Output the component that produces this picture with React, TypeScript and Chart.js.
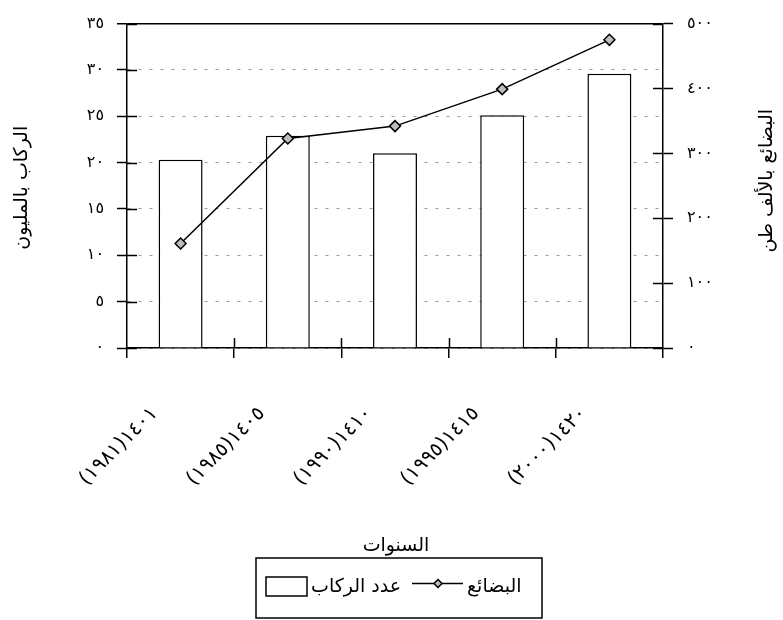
import React, { useEffect, useRef } from 'react';
import { Chart, registerables } from 'chart.js';

Chart.register(...registerables);

const categories = ['(١٩٨١)١٤٠١', '(١٩٨٥)١٤٠٥', '(١٩٩٠)١٤١٠', '(١٩٩٥)١٤١٥', '(٢٠٠٠)١٤٢٠'];
const passengers = [20.3, 22.9, 21.0, 25.1, 29.6];
const goods = [161, 323, 342, 399, 475];

const leftTitle = 'الركاب بالمليون';
const rightTitle = 'البضائع بالألف طن';
const xTitle = 'السنوات';
const barLabel = 'عدد الركاب';
const lineLabel = 'البضائع';

const FONT = "'DejaVu Sans', sans-serif";
const arabicDigits = '٠١٢٣٤٥٦٧٨٩';
const toArabic = (v: number | string) => String(v).replace(/\d/g, (d) => arabicDigits[+d]);

const decorPlugin = {
  id: 'decor',
  afterDraw(chart: any) {
    const { ctx, chartArea: a, scales } = chart;
    ctx.save();
    ctx.strokeStyle = '#000';
    ctx.lineWidth = 1.5;
    // inner halves of the crossing tick marks
    ctx.beginPath();
    scales.y.ticks.forEach((t: any) => {
      const py = Math.round(scales.y.getPixelForValue(t.value)) + 0.5;
      ctx.moveTo(a.left, py);
      ctx.lineTo(a.left + 10, py);
    });
    scales.y1.ticks.forEach((t: any) => {
      const py = Math.round(scales.y1.getPixelForValue(t.value)) + 0.5;
      ctx.moveTo(a.right, py);
      ctx.lineTo(a.right - 10, py);
    });
    for (let i = 1; i < categories.length; i++) {
      const px = Math.round(scales.x.getPixelForValue(i - 0.5)) + 0.5;
      ctx.moveTo(px, a.bottom);
      ctx.lineTo(px, a.bottom - 10);
    }
    ctx.stroke();

    // axis titles
    ctx.fillStyle = '#000';
    ctx.font = `19px ${FONT}`;
    ctx.textAlign = 'center';
    ctx.textBaseline = 'middle';
    ctx.save();
    ctx.translate(22, (a.top + a.bottom) / 2 + 2);
    ctx.rotate(-Math.PI / 2);
    ctx.fillText(leftTitle, 0, 0);
    ctx.restore();
    ctx.save();
    ctx.translate(767, (a.top + a.bottom) / 2 - 5);
    ctx.rotate(-Math.PI / 2);
    ctx.fillText(rightTitle, 0, 0);
    ctx.restore();
    const cx = (a.left + a.right) / 2;
    ctx.fillText(xTitle, cx + 1, 546);

    // legend
    const lx = cx + 4 - 143;
    const ly = 558;
    ctx.lineWidth = 1.5;
    ctx.strokeRect(lx, ly, 286, 60);
    ctx.strokeRect(lx + 10, 577, 41, 19);
    ctx.textAlign = 'left';
    ctx.fillText(barLabel, lx + 55, 587);
    ctx.beginPath();
    ctx.moveTo(lx + 156, 583.5);
    ctx.lineTo(lx + 207, 583.5);
    ctx.stroke();
    const dx = lx + 182;
    const dy = 583.5;
    ctx.beginPath();
    ctx.moveTo(dx, dy - 4);
    ctx.lineTo(dx + 4, dy);
    ctx.lineTo(dx, dy + 4);
    ctx.lineTo(dx - 4, dy);
    ctx.closePath();
    ctx.fillStyle = '#bdbdbd';
    ctx.fill();
    ctx.stroke();
    ctx.fillStyle = '#000';
    ctx.fillText(lineLabel, lx + 211, 587);
    ctx.restore();
  },
};

export default function App() {
  const ref = useRef<HTMLCanvasElement | null>(null);

  useEffect(() => {
    const canvas = ref.current;
    if (!canvas) return;
    const chart = new Chart(canvas, {
      type: 'bar',
      data: {
        labels: categories,
        datasets: [
          {
            type: 'bar',
            label: barLabel,
            data: passengers,
            yAxisID: 'y',
            backgroundColor: '#ffffff',
            borderColor: '#000000',
            borderWidth: 1.5,
            categoryPercentage: 1,
            barPercentage: 0.41,
            order: 2,
          },
          {
            type: 'line',
            label: lineLabel,
            data: goods,
            yAxisID: 'y1',
            borderColor: '#000000',
            borderWidth: 1.5,
            pointStyle: 'rectRot',
            pointRadius: 5.5,
            pointBackgroundColor: '#bdbdbd',
            pointBorderColor: '#000000',
            pointBorderWidth: 1.5,
            order: 1,
          } as any,
        ],
      },
      options: {
        responsive: false,
        animation: false,
        devicePixelRatio: 1,
        events: [],
        layout: { padding: { top: 18, left: 0, right: 0, bottom: 0 } },
        font: { family: FONT },
        plugins: {
          legend: { display: false },
          tooltip: { enabled: false },
        },
        scales: {
          x: {
            offset: true,
            grid: {
              offset: true,
              drawOnChartArea: false,
              drawTicks: true,
              tickLength: 10,
              color: '#000',
              tickColor: '#000',
              tickWidth: 1.5,
              lineWidth: 1.5,
            },
            border: { display: true, color: '#000', width: 1.5 },
            ticks: {
              autoSkip: false,
              minRotation: 45,
              maxRotation: 45,
              padding: 44,
              labelOffset: -26,
              color: '#000',
              font: { family: FONT, size: 20 },
            },
            afterFit: (s: any) => {
              s.height = 272;
            },
          },
          y: {
            position: 'left',
            min: 0,
            max: 35,
            ticks: {
              stepSize: 5,
              padding: 13,
              color: '#000',
              font: { family: FONT, size: 16 },
              callback: (v: any) => toArabic(v),
            },
            grid: {
              drawOnChartArea: true,
              drawTicks: true,
              tickLength: 10,
              color: (c: any) => (c.tick && c.tick.value === 35 ? '#000' : '#9a9a9a'),
              lineWidth: (c: any) => (c.tick && c.tick.value === 35 ? 1.5 : 1),
              tickColor: '#000',
              tickWidth: 1.5,
            },
            border: {
              display: true,
              color: '#000',
              width: 1.5,
              dash: (c: any) => (c.tick && c.tick.value === 35 ? [] : [3, 8]),
            },
            afterFit: (s: any) => {
              s.width = 127;
            },
          },
          y1: {
            position: 'right',
            min: 0,
            max: 500,
            ticks: {
              stepSize: 100,
              padding: 14,
              color: '#000',
              font: { family: FONT, size: 16 },
              callback: (v: any) => toArabic(v),
            },
            grid: {
              drawOnChartArea: false,
              drawTicks: true,
              tickLength: 10,
              color: '#000',
              tickColor: '#000',
              tickWidth: 1.5,
            },
            border: { display: true, color: '#000', width: 1.5 },
            afterFit: (s: any) => {
              s.width = 120;
            },
          },
        },
      } as any,
      plugins: [decorPlugin],
    });
    return () => chart.destroy();
  }, []);

  return (
    <div style={{ position: 'absolute', left: 0, top: 0, width: 783, height: 620, background: '#fff' }}>
      <canvas ref={ref} width={783} height={620} style={{ display: 'block' }} />
    </div>
  );
}
